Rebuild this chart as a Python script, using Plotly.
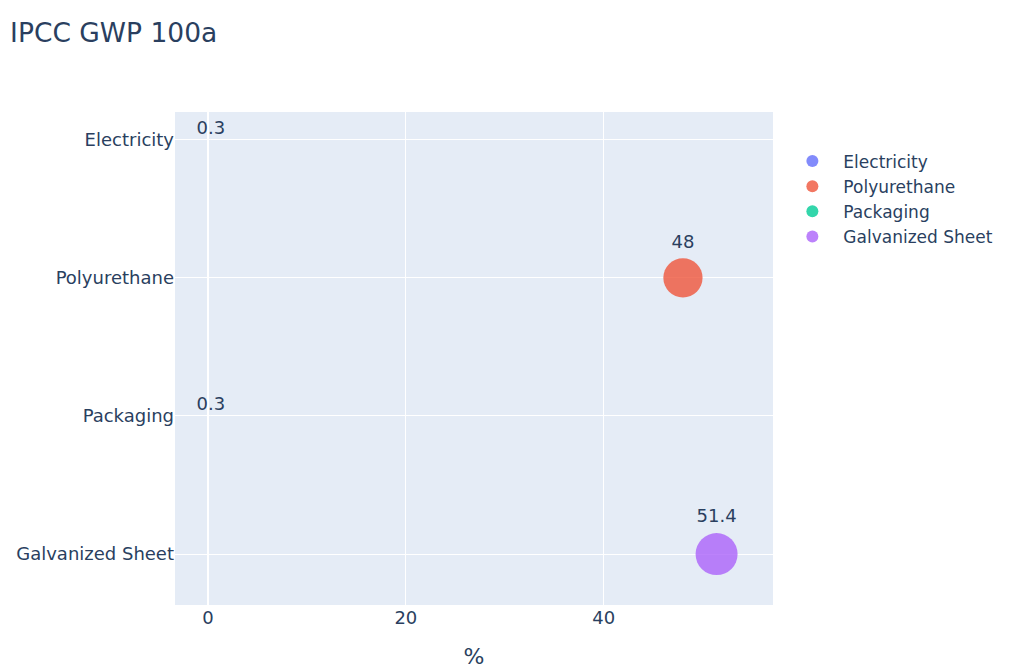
import plotly.graph_objects as go

# Contribution of each input to IPCC GWP 100a, in percent
processes = ["Electricity", "Polyurethane", "Packaging", "Galvanized Sheet"]
shares = [0.3, 48, 0.3, 51.4]
colors = ["#636efa", "#EF553B", "#00cc96", "#ab63fa"]

max_diameter = 42
sizeref = max(shares) / max_diameter
font_family = "DejaVu Sans, Verdana, sans-serif"

fig = go.Figure()
for name, val, col in zip(processes, shares, colors):
    fig.add_trace(go.Scatter(
        x=[val], y=[name], name=name,
        mode="markers+text",
        text=[val], textposition="top center",
        textfont=dict(size=18, color="#2a3f5f"),
        marker=dict(color=col, size=[val], sizemode="diameter",
                    sizeref=sizeref, sizemin=0, opacity=0.8,
                    line=dict(width=0)),
    ))

fig.update_layout(
    width=1011, height=669,
    template="plotly",
    font=dict(family=font_family, size=18, color="#2a3f5f"),
    title=dict(text="IPCC GWP 100a", x=0.01, xref="container", xanchor="left",
               y=1 - 33 / 669, yref="container", yanchor="middle",
               font=dict(size=26.5)),
    margin=dict(l=175, r=238, t=112, b=64, autoexpand=False),
    legend=dict(x=1.014, y=0.936, xanchor="left", yanchor="top",
                font=dict(size=17), itemsizing="constant", itemwidth=52),
    xaxis=dict(title=dict(text="%", standoff=22), range=[-3.33, 57.1], dtick=20,
               zeroline=True, zerolinecolor="white", zerolinewidth=2),
    yaxis=dict(categoryorder="array", categoryarray=processes,
               autorange="reversed", ticks=""),
)

fig.write_html("out.html")
